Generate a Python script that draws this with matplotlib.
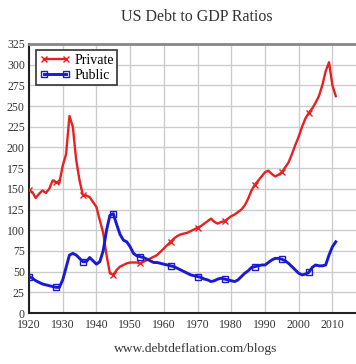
import numpy as np
import matplotlib.pyplot as plt

plt.rcParams['font.family'] = ['Liberation Serif', 'DejaVu Serif']

# Data: debt to GDP ratio (%) per year
tahun = np.arange(1920, 2012)

private = [149, 146, 139, 144, 148, 145, 150, 160, 158, 157,
           178, 192, 238, 225, 185, 160, 142, 142, 140, 134,
           128, 112, 97, 70, 48, 46, 52, 56, 58, 60,
           61, 61, 61, 60, 62, 64, 66, 68, 70, 74,
           78, 82, 86, 90, 93, 95, 96, 97, 99, 101,
           103, 105, 108, 111, 114, 110, 108, 110, 111, 114,
           117, 119, 122, 125, 130, 138, 148, 155, 160, 165,
           170, 172, 168, 165, 167, 170, 176, 182, 192, 203,
           213, 225, 235, 242, 247, 254, 262, 275, 292, 303,
           275, 262]

public = [44, 42, 39, 37, 35, 34, 33, 32, 31, 31,
          40, 55, 70, 72, 70, 66, 62, 62, 67, 63,
          59, 62, 75, 100, 118, 120, 107, 95, 88, 86,
          80, 72, 69, 68, 67, 65, 63, 61, 61, 60,
          59, 58, 57, 56, 54, 52, 50, 48, 46, 45,
          44, 43, 41, 40, 38, 39, 41, 42, 41, 40,
          39, 38, 40, 44, 48, 51, 55, 56, 57, 58,
          58, 61, 64, 66, 66, 65, 63, 60, 56, 52,
          48, 46, 47, 49, 55, 58, 57, 57, 58, 70,
          80, 86]

# posisi marker (indeks tahun)
titik_marker = [0, 8, 16, 25, 33, 42, 50, 58, 67, 75, 83]

fig = plt.figure(figsize=(3.56, 3.64), dpi=100)
ax = fig.add_axes([29/356, 1 - 313/364, (356 - 29)/356, (313 - 44)/364])

ax.plot(tahun, private, color='#e82020', lw=1.7, marker='x', ms=5, mew=1,
        markevery=titik_marker, label='Private', zorder=3)
ax.plot(tahun, public, color='#1a1ad0', lw=2.1, marker='s', ms=5, mew=1,
        mfc='none', markevery=titik_marker, label='Public', zorder=3)

ax.set_xlim(1920, 2017)
ax.set_ylim(0, 325)
ax.set_xticks(np.arange(1920, 2011, 10))
ax.set_yticks(np.arange(0, 326, 25))
ax.tick_params(length=0, labelsize=8.5, colors='#333333')
ax.tick_params(axis='y', pad=3)
ax.tick_params(axis='x', pad=4.5)
ax.grid(True, color='#cccccc', lw=1)
ax.set_axisbelow(True)

ax.spines['right'].set_visible(False)
ax.spines['top'].set_color('#888888')
ax.spines['top'].set_linewidth(2)
ax.spines['left'].set_color('#222222')
ax.spines['bottom'].set_color('#222222')
ax.spines['left'].set_linewidth(1.5)
ax.spines['bottom'].set_linewidth(1.5)

leg = ax.legend(loc='upper left', bbox_to_anchor=(0.022, 0.977), fontsize=10,
                fancybox=False, framealpha=1, edgecolor='#333333',
                borderpad=0.25, handlelength=2.2, handletextpad=0.3,
                labelspacing=0.15, numpoints=2, borderaxespad=0)
leg.get_frame().set_linewidth(1.2)

fig.text(0.552, 1 - 17/364, 'US Debt to GDP Ratios', ha='center', va='center',
         fontsize=11.5, color='#333333')
fig.text(0.551, 1 - 349/364, 'www.debtdeflation.com/blogs', ha='center',
         va='center', fontsize=9.7, color='#333333')

fig.savefig('out.png', dpi=100)
